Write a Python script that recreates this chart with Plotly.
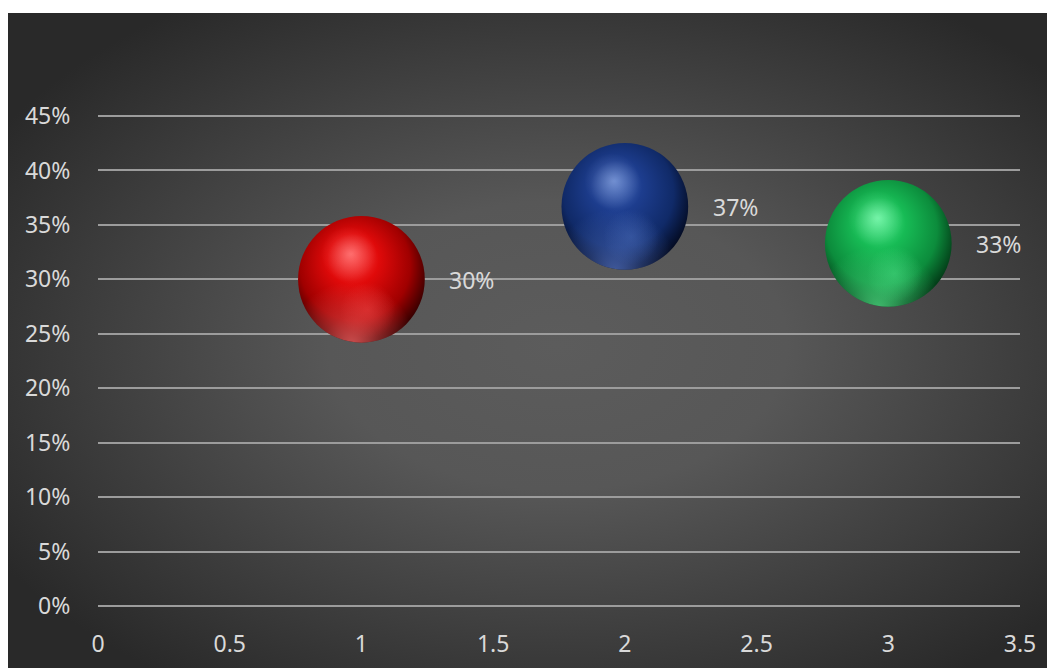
import base64
import plotly.graph_objects as go

# ---- data ----
x_values = [1, 2, 3]
y_values = [0.30, 0.367, 0.333]
labels = ["30%", "37%", "33%"]
sphere_colors = ["red", "blue", "green"]
x_ticks = [0, 0.5, 1, 1.5, 2, 2.5, 3, 3.5]
x_tick_text = ["0", "0.5", "1", "1.5", "2", "2.5", "3", "3.5"]
y_ticks = [0, 0.05, 0.10, 0.15, 0.20, 0.25, 0.30, 0.35, 0.40, 0.45]
y_tick_text = ["0%", "5%", "10%", "15%", "20%", "25%", "30%", "35%", "40%", "45%"]

# ---- styles ----
palette = {
    "red":   dict(light="#ff5050", main="#e00a0a", dark="#a00000", darkest="#380000", rim="#ff6a6a"),
    "blue":  dict(light="#5478c8", main="#1d3d8e", dark="#102a68", darkest="#040c24", rim="#5676c8"),
    "green": dict(light="#58f296", main="#17bb55", dark="#0c8c3c", darkest="#033d18", rim="#55e58a"),
}
FONT = "Noto Sans, Open Sans, sans-serif"
TEXT_COLOR = "#d9d9d9"
GRID_COLOR = "#9c9c9c"
FS = 23
W, H = 1047, 660
EXT_PX = 3
L, R, T, B = 90, 35, 108 - EXT_PX, 62 - EXT_PX
TOP_WHITE = 5
SPHERE_PX = 128


def sphere_svg(c):
    svg = f'''<svg xmlns="http://www.w3.org/2000/svg" width="200" height="200" viewBox="0 0 200 200">
<defs>
<radialGradient id="b" cx="0.46" cy="0.42" r="0.58" fx="0.42" fy="0.30">
<stop offset="0" stop-color="{c['light']}"/>
<stop offset="0.35" stop-color="{c['main']}"/>
<stop offset="0.75" stop-color="{c['dark']}"/>
<stop offset="1" stop-color="{c['darkest']}"/>
</radialGradient>
<radialGradient id="r" cx="0.42" cy="1.02" r="0.5">
<stop offset="0" stop-color="{c['rim']}" stop-opacity="0.75"/>
<stop offset="0.45" stop-color="{c['rim']}" stop-opacity="0.35"/>
<stop offset="1" stop-color="{c['rim']}" stop-opacity="0"/>
</radialGradient>
<radialGradient id="g" cx="0.55" cy="0.74" r="0.22">
<stop offset="0" stop-color="{c['light']}" stop-opacity="0.35"/>
<stop offset="1" stop-color="{c['light']}" stop-opacity="0"/>
</radialGradient>
<radialGradient id="h" cx="0.40" cy="0.30" r="0.22">
<stop offset="0" stop-color="#ffffff" stop-opacity="0.18"/>
<stop offset="1" stop-color="#ffffff" stop-opacity="0"/>
</radialGradient>
</defs>
<circle cx="100" cy="100" r="99" fill="url(#b)"/>
<circle cx="100" cy="100" r="99" fill="url(#r)"/>
<circle cx="100" cy="100" r="99" fill="url(#g)"/>
<circle cx="100" cy="100" r="99" fill="url(#h)"/>
</svg>'''
    return "data:image/svg+xml;base64," + base64.b64encode(svg.encode()).decode()


bg_svg = '''<svg xmlns="http://www.w3.org/2000/svg" width="400" height="250" viewBox="0 0 400 250" preserveAspectRatio="none">
<defs><radialGradient id="bg" cx="0.52" cy="0.5" r="0.62">
<stop offset="0" stop-color="#5c5c5c"/>
<stop offset="0.35" stop-color="#575757"/>
<stop offset="1" stop-color="#292929"/>
</radialGradient></defs>
<rect width="400" height="250" fill="url(#bg)"/>
</svg>'''
bg_src = "data:image/svg+xml;base64," + base64.b64encode(bg_svg.encode()).decode()

pw, ph = W - L - R, H - T - B
x_range = [0, 3.5]
# extend the y range by a few pixels so the 0% and 45% gridlines are drawn
y_span = y_ticks[-1] - y_ticks[0]
y_pad = y_span * EXT_PX / (ph - 2 * EXT_PX)
y_range = [y_ticks[0] - y_pad, y_ticks[-1] + y_pad]

images = [dict(
    source=bg_src, xref="paper", yref="paper",
    x=(0 - L) / pw, y=(H - B - TOP_WHITE) / ph,
    sizex=(W + 10) / pw, sizey=(H + 10 - TOP_WHITE) / ph,
    xanchor="left", yanchor="top", sizing="stretch", layer="below",
)]
sx = SPHERE_PX / pw * (x_range[1] - x_range[0])
sy = SPHERE_PX / ph * (y_range[1] - y_range[0])
for xv, yv, cn in zip(x_values, y_values, sphere_colors):
    images.append(dict(
        source=sphere_svg(palette[cn]), xref="x", yref="y",
        x=xv, y=yv, sizex=sx, sizey=sy,
        xanchor="center", yanchor="middle", sizing="stretch", layer="above",
    ))

fig = go.Figure()
fig.add_trace(go.Scatter(
    x=x_values, y=y_values, mode="markers",
    marker=dict(size=SPHERE_PX - 4, color=[palette[c]["main"] for c in sphere_colors],
                line=dict(width=0)),
    hoverinfo="skip", showlegend=False,
))

annotations = []
for xv, yv, lab in zip(x_values, y_values, labels):
    annotations.append(dict(
        x=xv, y=yv, xref="x", yref="y", text=lab, showarrow=False,
        xanchor="left", yanchor="middle", xshift=SPHERE_PX / 2 + 22, yshift=-1,
        font=dict(family=FONT, size=FS, color=TEXT_COLOR),
    ))

fig.update_layout(
    width=W, height=H,
    margin=dict(l=L, r=R, t=T, b=B, pad=0, autoexpand=False),
    paper_bgcolor="#ffffff",
    plot_bgcolor="rgba(0,0,0,0)",
    images=images,
    annotations=annotations,
    showlegend=False,
    font=dict(family=FONT, size=FS, color=TEXT_COLOR),
)
fig.update_xaxes(
    range=x_range, tickvals=x_ticks, ticktext=x_tick_text, automargin=False,
    showgrid=False, zeroline=False, showline=False,
    ticks="outside", ticklen=14, tickcolor="rgba(0,0,0,0)",
    tickfont=dict(family=FONT, size=FS, color=TEXT_COLOR),
)
fig.update_yaxes(
    range=y_range, tickvals=y_ticks, ticktext=y_tick_text, automargin=False,
    showgrid=True, gridcolor=GRID_COLOR, gridwidth=2, zeroline=False, showline=False,
    ticks="outside", ticklen=22, tickcolor="rgba(0,0,0,0)",
    tickfont=dict(family=FONT, size=FS, color=TEXT_COLOR),
)

fig.write_html("out.html")
